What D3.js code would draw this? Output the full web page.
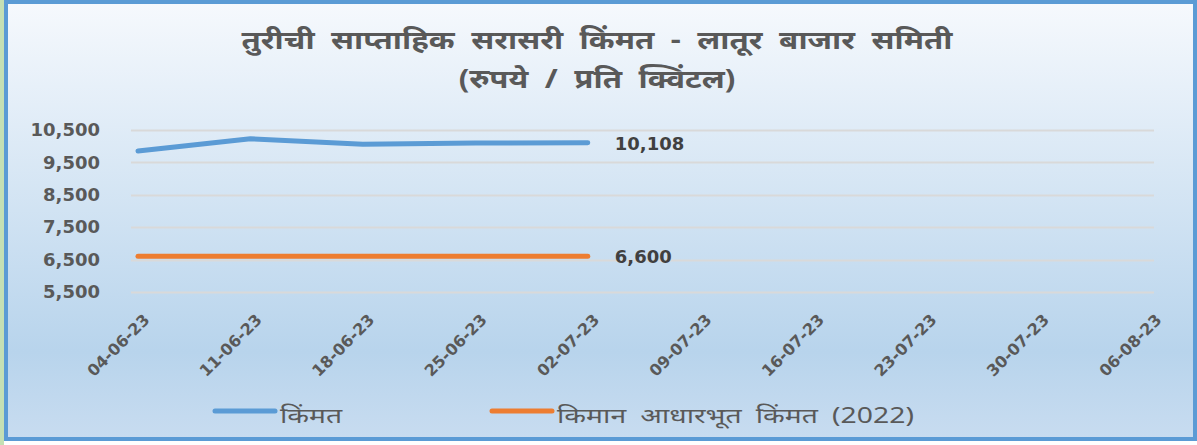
<!DOCTYPE html>
<html>
<head>
<meta charset="utf-8">
<script src="https://cdn.jsdelivr.net/npm/d3@7"></script>
<style>
    body { margin: 0; background: #ffffff; }
    .hindi { font-family: "Noto Sans", sans-serif; }
    .num { font-family: "DejaVu Sans", sans-serif; font-weight: bold; }
</style>
</head>
<body>
<div id="container"></div>
<script>
// chart data
var dates = ["04-06-23", "11-06-23", "18-06-23", "25-06-23", "02-07-23",
             "09-07-23", "16-07-23", "23-07-23", "30-07-23", "06-08-23"];
var priceValues = [9850, 10230, 10060, 10100, 10108];
var msp2022 = [6600, 6600, 6600, 6600, 6600];
var yTicks = [5500, 6500, 7500, 8500, 9500, 10500];
var seriesNames = ["किंमत", "किमान आधारभूत किंमत (2022)"];
var titleLines = ["तुरीची साप्ताहिक सरासरी किंमत - लातूर बाजार समिती", "(रुपये / प्रति क्विंटल)"];

// sizes
var width = 1197;
var height = 445;
var colors = ["#5b9bd5", "#ed7d31"];
var textColor = "#595959";

var svg = d3.select("#container")
            .append("svg")
            .attr("width", width)
            .attr("height", height);

// background gradient
var grad = svg.append("defs")
              .append("linearGradient")
              .attr("id", "bg")
              .attr("x1", 0).attr("y1", 0)
              .attr("x2", 0).attr("y2", 1);
grad.append("stop").attr("offset", "0%").attr("stop-color", "#f6f9fd");
grad.append("stop").attr("offset", "80%").attr("stop-color", "#b8d4ec");
grad.append("stop").attr("offset", "100%").attr("stop-color", "#c8dcf0");

svg.append("rect")
   .attr("x", 0).attr("y", 0)
   .attr("width", 4).attr("height", height)
   .attr("fill", "#c5e0b4");

svg.append("rect")
   .attr("x", 6).attr("y", 2)
   .attr("width", width - 8).attr("height", 437)
   .attr("fill", "url(#bg)")
   .attr("stroke", "#5b9bd5")
   .attr("stroke-width", 4);

// scales
var x = d3.scalePoint()
          .domain(dates)
          .range([138, 1150]);

var y = d3.scaleLinear()
          .domain([5500, 10500])
          .range([292, 130]);

// gridlines
svg.append("g")
   .selectAll("line")
   .data(yTicks)
   .enter()
   .append("line")
   .attr("x1", 131)
   .attr("x2", 1154)
   .attr("y1", function(d) { return Math.round(y(d)) + 0.5; })
   .attr("y2", function(d) { return Math.round(y(d)) + 0.5; })
   .attr("stroke", "#d9d9d9")
   .attr("stroke-width", 2);

// y axis
var yAxis = d3.axisLeft(y)
              .tickValues(yTicks)
              .tickSize(0)
              .tickPadding(0)
              .tickFormat(d3.format(","));

var yG = svg.append("g")
            .attr("transform", "translate(100,0)")
            .call(yAxis)
            .attr("font-family", null)
            .attr("font-size", null);
yG.select(".domain").remove();
yG.selectAll("text")
  .attr("class", "num")
  .attr("fill", textColor)
  .attr("font-size", "18px");

// x axis
var xAxis = d3.axisBottom(x)
              .tickSize(0)
              .tickPadding(0);

var xG = svg.append("g")
            .attr("transform", "translate(0,300)")
            .call(xAxis)
            .attr("font-family", null)
            .attr("font-size", null);
xG.select(".domain").remove();
xG.selectAll("text")
  .attr("class", "num")
  .attr("fill", textColor)
  .attr("font-size", "16px")
  .attr("text-anchor", "end")
  .attr("dy", "0")
  .attr("transform", "translate(12,21) rotate(-45)");

// lines
var line = d3.line()
             .x(function(d, i) { return x(dates[i]); })
             .y(function(d) { return y(d); });

[priceValues, msp2022].forEach(function(series, k) {
    svg.append("path")
       .datum(series)
       .attr("d", line)
       .attr("fill", "none")
       .attr("stroke", colors[k])
       .attr("stroke-width", 5)
       .attr("stroke-linecap", "round")
       .attr("stroke-linejoin", "round");

    // last value label
    var last = series.length - 1;
    svg.append("text")
       .attr("class", "num")
       .attr("x", x(dates[last]) + 27)
       .attr("y", y(series[last]) + 7)
       .attr("fill", "#404040")
       .attr("font-size", "18px")
       .text(d3.format(",")(series[last]));
});

// title (stretched a bit to match the wider original font)
svg.selectAll(".title")
   .data(titleLines)
   .enter()
   .append("g")
   .attr("class", "title")
   .attr("transform", function(d, i) {
       return "translate(597," + (49 + i * 39) + ") scale(1.2,1)";
   })
   .append("text")
   .attr("class", "hindi")
   .attr("text-anchor", "middle")
   .attr("fill", textColor)
   .attr("font-size", "26px")
   .attr("font-weight", "bold")
   .attr("word-spacing", "7px")
   .text(function(d) { return d; });

// legend
var legendX = [215, 492];
var legend = svg.selectAll(".legend")
                .data(seriesNames)
                .enter()
                .append("g")
                .attr("class", "legend")
                .attr("transform", function(d, i) {
                    return "translate(" + legendX[i] + ",411)";
                });

legend.append("line")
      .attr("x1", 0).attr("x2", 60)
      .attr("stroke", function(d, i) { return colors[i]; })
      .attr("stroke-width", 5)
      .attr("stroke-linecap", "round");

legend.append("text")
      .attr("class", "hindi")
      .attr("transform", "translate(65,12) scale(1.35,1)")
      .attr("fill", textColor)
      .attr("font-size", "21px")
      .attr("word-spacing", "5px")
      .text(function(d) { return d; });
</script>
</body>
</html>
